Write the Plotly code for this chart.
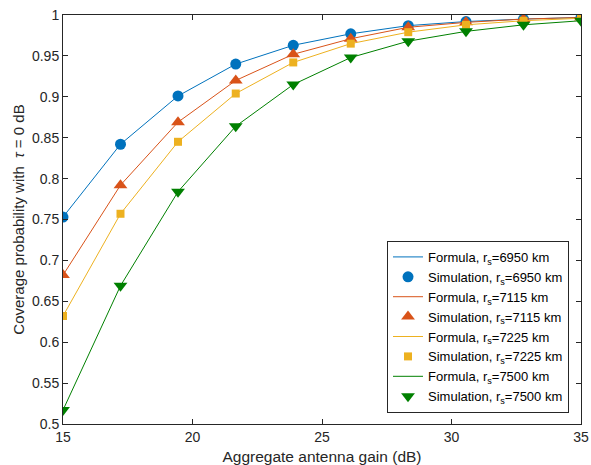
import plotly.graph_objects as go

gain_db = [15, 17.22, 19.44, 21.67, 23.89, 26.11, 28.33, 30.56, 32.78, 35]

cov_6950 = [0.753, 0.842, 0.901, 0.940, 0.963, 0.977, 0.987, 0.992, 0.995, 0.997]
cov_7115 = [0.682, 0.792, 0.869, 0.920, 0.952, 0.971, 0.985, 0.991, 0.995, 0.997]
cov_7225 = [0.632, 0.757, 0.845, 0.904, 0.942, 0.965, 0.979, 0.988, 0.993, 0.996]
cov_7500 = [0.517, 0.669, 0.784, 0.864, 0.915, 0.948, 0.968, 0.980, 0.988, 0.993]

radii = ["6950", "7115", "7225", "7500"]
series = [cov_6950, cov_7115, cov_7225, cov_7500]
colors = ["#0072BD", "#D95319", "#EDB120", "#008000"]
symbols = ["circle", "triangle-up", "square", "triangle-down"]
msizes = [11, 12, 8, 12]

fig = go.Figure()
for r, ys, c, s, ms in zip(radii, series, colors, symbols, msizes):
    fig.add_trace(go.Scatter(
        x=gain_db, y=ys, mode="lines",
        line=dict(color=c, width=1),
        name=f"Formula, r<sub>s</sub>={r} km"))
    fig.add_trace(go.Scatter(
        x=gain_db, y=ys, mode="markers",
        marker=dict(color=c, symbol=s, size=ms, line=dict(width=0)),
        name=f"Simulation, r<sub>s</sub>={r} km"))

axis_common = dict(
    showline=True, linecolor="#262626", linewidth=1, mirror="ticks",
    ticks="inside", ticklen=5, tickcolor="#262626", tickwidth=1,
    showgrid=False, zeroline=False,
    tickfont=dict(family="Liberation Sans, Arial", size=14, color="#262626"),
)

fig.update_layout(
    width=591, height=465,
    margin=dict(l=63, r=10, t=15, b=41, autoexpand=False),
    plot_bgcolor="white", paper_bgcolor="white",
    font=dict(family="Liberation Sans, Arial", color="#262626"),
    xaxis=dict(range=[15, 35], tickvals=[15, 20, 25, 30, 35],
               automargin=False,
               title=dict(text="Aggregate antenna gain (dB)",
                          font=dict(size=15.5)),
               **axis_common),
    yaxis=dict(range=[0.5, 1], tickvals=[0.5, 0.55, 0.6, 0.65, 0.7, 0.75, 0.8, 0.85, 0.9, 0.95, 1],
               ticktext=["0.5", "0.55", "0.6", "0.65", "0.7", "0.75", "0.8", "0.85", "0.9", "0.95", "1"],
               automargin=True,
               title=dict(text="Coverage probability with  <i>τ</i> = 0 dB",
                          font=dict(size=15), standoff=3),
               **axis_common),
    legend=dict(x=0.6255, y=0.027, xanchor="left", yanchor="bottom",
                bgcolor="white", bordercolor="#262626", borderwidth=1,
                font=dict(size=13, color="#000000"),
                itemwidth=30, tracegroupgap=0),
    showlegend=True,
)

fig.write_html("out.html",
               config={"displayModeBar": False},
               post_script="document.body.style.margin='0';document.body.style.padding='0';")
